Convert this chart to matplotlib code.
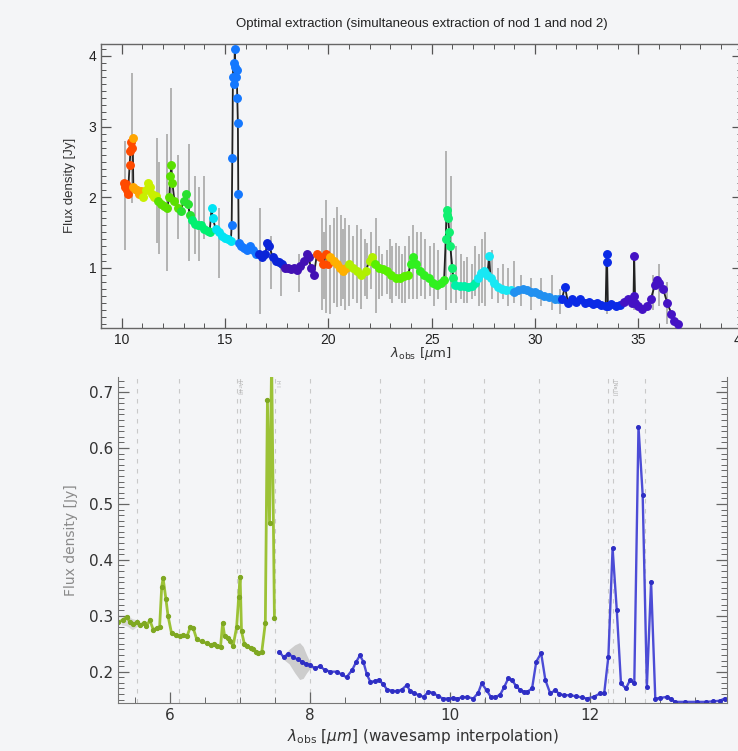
import matplotlib
matplotlib.use("Agg")
import matplotlib.pyplot as plt
from matplotlib.ticker import MultipleLocator
import numpy as np

# ---- top panel: full spectrum (wavelength [um], flux [Jy]) ----
top_wave = [10.10, 10.15, 10.20, 10.25, 10.30, 10.38, 10.42, 10.46, 10.50,
            10.53, 10.56, 10.65, 10.75, 10.85, 10.95,
            11.05, 11.15, 11.25, 11.35, 11.45, 11.55, 11.65,
            11.75, 11.90, 12.05, 12.20, 12.30, 12.35, 12.40, 12.45, 12.55, 12.70,
            12.85, 13.00, 13.10, 13.20, 13.30,
            13.40, 13.55, 13.70, 13.85, 14.00, 14.15, 14.25,
            14.35, 14.40, 14.55, 14.70, 14.85, 15.00, 15.15, 15.28,
            15.32, 15.35, 15.38, 15.41, 15.44, 15.47, 15.50, 15.53, 15.56, 15.59,
            15.62, 15.64, 15.66, 15.75, 15.90, 16.05, 16.20, 16.35, 16.50,
            16.65, 16.80, 16.95, 17.05, 17.15, 17.30, 17.45, 17.60, 17.75,
            17.90, 18.05, 18.20, 18.35, 18.50, 18.65, 18.80, 18.95, 19.05, 19.15, 19.30,
            19.45, 19.60, 19.75, 19.90, 20.00,
            20.10, 20.25, 20.40, 20.55, 20.70, 20.85,
            21.00, 21.20, 21.40, 21.60, 21.80, 22.00, 22.10,
            22.25, 22.45, 22.65, 22.85, 23.05, 23.25, 23.45, 23.65, 23.85,
            24.00, 24.10, 24.25, 24.45, 24.65, 24.85, 25.05, 25.25, 25.45, 25.60,
            25.68, 25.72, 25.76, 25.80, 25.85, 25.90, 26.00, 26.05,
            26.15, 26.35, 26.55, 26.75, 26.95, 27.10,
            27.25, 27.40, 27.55, 27.70, 27.78, 27.85, 28.00, 28.20, 28.40, 28.60, 28.85,
            29.00, 29.20, 29.40, 29.60, 29.80, 30.00, 30.20, 30.45, 30.70, 30.95, 31.15,
            31.30, 31.45, 31.60, 31.80, 32.00, 32.20, 32.40, 32.60, 32.80, 33.00,
            33.20, 33.42, 33.47, 33.49, 33.53, 33.70, 33.90, 34.10,
            34.30, 34.50, 34.70, 34.77, 34.80, 34.85, 35.00, 35.20, 35.40, 35.60,
            35.80, 35.90, 36.00, 36.20, 36.40, 36.60, 36.75, 36.90]
top_flux = [2.20, 2.15, 2.18, 2.10, 2.05, 2.45, 2.65, 2.78, 2.70,
            2.84, 2.15, 2.12, 2.10, 2.05, 2.08,
            2.00, 2.10, 2.20, 2.15, 2.05, 2.00, 2.02,
            1.95, 1.90, 1.88, 1.85, 2.00, 2.30, 2.45, 2.20, 1.95, 1.85,
            1.80, 1.95, 2.05, 1.90, 1.75,
            1.68, 1.62, 1.60, 1.60, 1.55, 1.52, 1.50,
            1.85, 1.70, 1.55, 1.50, 1.45, 1.42, 1.40, 1.38,
            1.60, 2.55, 3.70, 3.90, 3.60, 4.10, 3.85, 3.70, 3.80, 3.40,
            3.05, 2.05, 1.35, 1.30, 1.28, 1.25, 1.30, 1.25, 1.20,
            1.20, 1.15, 1.20, 1.35, 1.30, 1.15, 1.10, 1.08, 1.05,
            1.00, 1.00, 0.98, 1.00, 0.97, 1.02, 1.10, 1.20, 1.15, 1.00, 0.90,
            1.20, 1.15, 1.05, 1.20, 1.05,
            1.15, 1.10, 1.05, 1.00, 0.95, 1.00,
            1.05, 1.00, 0.95, 0.90, 0.95, 1.10, 1.15,
            1.05, 1.00, 0.98, 0.95, 0.90, 0.85, 0.85, 0.88, 0.90,
            1.05, 1.15, 1.05, 0.95, 0.90, 0.85, 0.78, 0.76, 0.78, 0.82,
            1.40, 1.75, 1.82, 1.70, 1.50, 1.30, 1.00, 0.85,
            0.75, 0.74, 0.74, 0.72, 0.74, 0.78,
            0.85, 0.92, 0.95, 0.90, 1.17, 0.85, 0.78, 0.72, 0.70, 0.68, 0.68,
            0.65, 0.68, 0.70, 0.68, 0.65, 0.66, 0.63, 0.60, 0.58, 0.56, 0.55,
            0.55, 0.73, 0.50, 0.55, 0.52, 0.56, 0.50, 0.52, 0.48, 0.50,
            0.47, 0.46, 1.20, 1.08, 0.45, 0.48, 0.45, 0.47,
            0.52, 0.55, 0.50, 0.60, 1.17, 0.50, 0.45, 0.42, 0.45, 0.55,
            0.75, 0.82, 0.78, 0.70, 0.50, 0.35, 0.25, 0.20]

# order boundaries (first wavelength of each order) and order colours
order_start = [10.0, 10.52, 11.0, 11.7, 12.8, 13.35, 14.3, 15.3, 16.6, 17.85,
               19.4, 20.05, 20.95, 22.2, 23.9, 25.65, 26.1, 27.2, 28.95, 31.25, 34.2]
order_color = ['#ff4a00', '#ffa500', '#c8f000', '#5ae000', '#28e030', '#00f070',
               '#00e4f4', '#1478ff', '#0a24d8', '#4210b4',
               '#ff4a00', '#ffb000', '#b0f000', '#58f000', '#30f020', '#10f070',
               '#00f0a8', '#18e8f4', '#2290f0', '#0a2ae6', '#4412c4']

# uncertainty bars (wavelength, low, high)
err_wave = [10.17, 10.50, 11.70, 11.80, 12.20, 12.40, 12.70, 13.25, 13.55, 13.75,
            14.00, 14.70, 16.70, 17.20, 17.70, 18.60, 19.70, 19.80, 19.90, 20.10,
            20.25, 20.40, 20.60, 20.70, 20.80, 21.00, 21.20, 21.40, 21.60, 21.75,
            21.85, 22.05, 22.30, 22.45, 22.60, 22.85, 23.00, 23.10, 23.25, 23.40,
            23.55, 23.70, 23.90, 24.10, 24.30, 24.50, 24.70, 24.90, 25.10, 25.30,
            25.70, 25.95, 26.20, 26.40, 26.55, 26.70, 26.95, 27.10, 27.30, 27.45,
            27.60, 27.90, 28.20, 28.45, 28.70, 29.00, 29.30, 29.80, 30.30, 30.80,
            31.20, 33.50, 34.80, 35.70, 36.00, 36.40]
err_lo = [1.25, 1.92, 1.35, 1.20, 0.95, 2.00, 1.40, 1.10, 1.20, 1.10,
          1.40, 0.85, 0.35, 0.70, 0.60, 0.65, 0.40, 0.55, 0.36, 0.35,
          0.50, 0.44, 0.45, 0.55, 0.40, 0.46, 0.55, 0.50, 0.42, 0.60,
          0.55, 0.70, 0.36, 0.55, 0.60, 0.62, 0.55, 0.50, 0.60, 0.55,
          0.50, 0.50, 0.55, 0.55, 0.55, 0.60, 0.55, 0.60, 0.45, 0.55,
          0.40, 0.50, 0.50, 0.55, 0.50, 0.50, 0.55, 0.60, 0.45, 0.50,
          0.45, 0.55, 0.50, 0.55, 0.45, 0.50, 0.45, 0.40, 0.45, 0.40,
          0.35, 0.35, 0.40, 0.40, 0.45, 0.20]
err_hi = [2.80, 3.76, 2.84, 2.50, 2.90, 3.55, 2.60, 2.75, 2.30, 2.15,
          2.30, 1.85, 1.85, 1.45, 1.00, 1.20, 1.70, 1.50, 1.96, 1.60,
          1.70, 1.86, 1.75, 1.55, 1.70, 1.60, 1.45, 1.60, 1.55, 1.40,
          1.35, 1.50, 1.70, 1.30, 1.20, 1.25, 1.40, 1.30, 1.35, 1.30,
          1.20, 1.30, 1.45, 1.60, 1.50, 1.50, 1.40, 1.30, 1.35, 1.25,
          2.65, 2.30, 1.30, 1.20, 1.10, 1.15, 1.05, 1.30, 1.20, 1.40,
          1.50, 1.25, 1.00, 1.05, 1.00, 1.10, 0.90, 0.85, 0.85, 0.90,
          0.70, 0.70, 0.65, 0.90, 1.05, 0.80]

# ---- bottom panel: wavesamp interpolated low-res spectrum ----
sl2_wave = [5.26, 5.32, 5.38, 5.43, 5.47, 5.52, 5.57, 5.62, 5.66, 5.71, 5.76, 5.81,
            5.85, 5.88, 5.90, 5.94, 5.97, 6.02, 6.08, 6.14, 6.19, 6.24, 6.29, 6.33,
            6.38, 6.45, 6.52, 6.58, 6.63, 6.67, 6.72, 6.75, 6.78, 6.82, 6.86, 6.90,
            6.95, 6.98, 7.00, 7.02, 7.06, 7.10, 7.15, 7.19, 7.23, 7.26, 7.31, 7.36,
            7.39, 7.42, 7.45, 7.49]
sl2_flux = [0.289, 0.292, 0.298, 0.288, 0.285, 0.288, 0.283, 0.287, 0.281, 0.292, 0.275, 0.278,
            0.280, 0.352, 0.367, 0.330, 0.300, 0.269, 0.265, 0.263, 0.265, 0.263, 0.280, 0.278,
            0.258, 0.254, 0.251, 0.248, 0.249, 0.246, 0.244, 0.287, 0.263, 0.260, 0.254, 0.246,
            0.280, 0.334, 0.370, 0.272, 0.250, 0.246, 0.243, 0.240, 0.236, 0.233, 0.236, 0.287,
            0.686, 0.466, 0.760, 0.296]

sl1_wave = [7.56, 7.62, 7.69, 7.76, 7.82, 7.88, 7.94, 8.00, 8.07, 8.14, 8.21, 8.29,
            8.38, 8.45, 8.52, 8.60, 8.66, 8.71, 8.76, 8.81, 8.86, 8.93, 8.98, 9.04,
            9.10, 9.17, 9.24, 9.31, 9.38, 9.43, 9.48, 9.55, 9.62, 9.69, 9.76, 9.83,
            9.90, 9.97, 10.04, 10.10, 10.17, 10.24, 10.33, 10.40, 10.45, 10.52, 10.58, 10.64,
            10.71, 10.77, 10.83, 10.88, 10.94, 11.00, 11.06, 11.10, 11.17, 11.23, 11.30, 11.36,
            11.43, 11.50, 11.56, 11.62, 11.71, 11.80, 11.88, 11.95, 12.05, 12.14, 12.20, 12.26,
            12.32, 12.38, 12.44, 12.51, 12.57, 12.63, 12.69, 12.75, 12.81, 12.87, 12.93, 13.00,
            13.10, 13.16, 13.21, 13.35, 13.52, 13.65, 13.76, 13.85, 13.92]
sl1_flux = [0.236, 0.226, 0.232, 0.226, 0.222, 0.218, 0.214, 0.212, 0.206, 0.210, 0.203, 0.200,
            0.200, 0.195, 0.190, 0.203, 0.218, 0.229, 0.218, 0.195, 0.182, 0.183, 0.186, 0.178,
            0.168, 0.166, 0.165, 0.168, 0.176, 0.165, 0.162, 0.158, 0.155, 0.164, 0.162, 0.156,
            0.152, 0.152, 0.153, 0.152, 0.154, 0.155, 0.152, 0.162, 0.179, 0.167, 0.155, 0.155,
            0.158, 0.172, 0.188, 0.185, 0.175, 0.167, 0.164, 0.164, 0.170, 0.218, 0.233, 0.185,
            0.161, 0.167, 0.160, 0.158, 0.158, 0.156, 0.154, 0.152, 0.155, 0.161, 0.161, 0.227,
            0.421, 0.310, 0.179, 0.170, 0.185, 0.179, 0.638, 0.516, 0.173, 0.361, 0.152, 0.153,
            0.155, 0.151, 0.146, 0.146, 0.146, 0.146, 0.147, 0.148, 0.152]

# grey uncertainty bands
band_wave = [7.62, 7.70, 7.78, 7.85, 7.90, 7.95, 8.00, 8.06]
band_lo = [0.222, 0.214, 0.198, 0.186, 0.188, 0.198, 0.206, 0.205]
band_hi = [0.230, 0.240, 0.248, 0.252, 0.245, 0.230, 0.217, 0.208]
band2_wave = [5.30, 5.38, 5.46, 5.54]
band2_lo = [0.284, 0.282, 0.275, 0.282]
band2_hi = [0.296, 0.300, 0.295, 0.292]

# line markers
line_pos = [5.52, 6.12, 6.95, 7.00, 7.50, 8.00, 9.00, 9.62, 10.48, 11.27, 12.26, 12.33, 12.79]
line_lab = [(7.00, '[Ar II]'), (7.53, 'H I'), (12.36, '[Ne II]')]

BG = '#f4f5f7'
fig = plt.figure(figsize=(7.38, 7.51), dpi=100, facecolor=BG)

# ===================== top panel =====================
ax1 = fig.add_axes([101.1 / 738, 1 - 327.7 / 751, 640.5 / 738, 283.7 / 751])
ax1.set_facecolor(BG)
ax1.vlines(err_wave, err_lo, err_hi, color='#b3b3b3', lw=1.4, zorder=1)
ax1.plot(top_wave, top_flux, color='#222222', lw=1.3, zorder=2)

tw = np.array(top_wave)
tf = np.array(top_flux)
edges = order_start + [99]
for i, c in enumerate(order_color):
    m = (tw >= edges[i]) & (tw < edges[i + 1])
    ax1.plot(tw[m], tf[m], 'o', color=c, ms=5.4, mec=c, zorder=3)

ax1.set_xlim(9, 40)
ax1.set_ylim(0.149, 4.17)
ax1.xaxis.set_major_locator(MultipleLocator(5))
ax1.xaxis.set_minor_locator(MultipleLocator(1))
ax1.yaxis.set_major_locator(MultipleLocator(1))
ax1.yaxis.set_minor_locator(MultipleLocator(0.1))
ax1.tick_params(which='both', direction='in', top=True, right=True,
                colors='#555555', labelcolor='#222222', labelsize=10)
ax1.tick_params(which='major', length=7, width=0.9)
ax1.tick_params(which='minor', length=3.5, width=0.7)
for s in ax1.spines.values():
    s.set_color('#666666')
    s.set_linewidth(1.0)
ax1.set_title('Optimal extraction (simultaneous extraction of nod 1 and nod 2)',
              fontsize=9.5, family='Liberation Sans', color='#222222', pad=12)
ax1.set_ylabel('Flux density [Jy]', fontsize=9.5, family='Liberation Sans',
               color='#333333', labelpad=9)
ax1.set_xlabel(r'$\lambda_{\rm obs}$ [$\mu$m]', fontsize=9.5, color='#333333', labelpad=-1)
for lbl in ax1.get_xticklabels() + ax1.get_yticklabels():
    lbl.set_family('Liberation Sans')

# ===================== bottom panel =====================
ax2 = fig.add_axes([118.3 / 738, 48 / 751, 608.4 / 738, 326 / 751])
ax2.set_facecolor(BG)
for x in line_pos:
    ax2.axvline(x, color='#c9c9c9', lw=0.8, ls=(0, (4, 5)), zorder=0)
for x, t in line_lab:
    ax2.text(x, 0.722, t, rotation=-90, fontsize=3.5, color='#aaaaaa',
             ha='center', va='top')

ax2.fill_between(band_wave, band_lo, band_hi, color='#cdcdcd', lw=0, zorder=1)
ax2.fill_between(band2_wave, band2_lo, band2_hi, color='#d8d8d8', lw=0, zorder=1)
ax2.plot(sl2_wave, sl2_flux, '-o', color='#9cc236', lw=2.0, ms=2.8,
         mfc='#7fa822', mec='#7fa822', zorder=2)
ax2.plot(sl1_wave, sl1_flux, '-o', color='#4c4cd6', lw=1.7, ms=2.6,
         mfc='#2e2ec4', mec='#2e2ec4', zorder=2)

ax2.set_xlim(5.26, 13.95)
ax2.set_ylim(0.144, 0.727)
ax2.xaxis.set_major_locator(MultipleLocator(2))
ax2.xaxis.set_minor_locator(MultipleLocator(0.5))
ax2.yaxis.set_major_locator(MultipleLocator(0.1))
ax2.yaxis.set_minor_locator(MultipleLocator(0.01))
ax2.tick_params(which='both', direction='in', top=False, right=True,
                colors='#666666', labelcolor='#333333', labelsize=11)
ax2.tick_params(which='major', length=8, width=0.9)
ax2.tick_params(which='minor', length=4, width=0.7)
ax2.spines['top'].set_visible(False)
for s in ['left', 'bottom', 'right']:
    ax2.spines[s].set_color('#777777')
ax2.set_ylabel('Flux density [Jy]', fontsize=10, color='#8a8a8a', labelpad=8)
ax2.set_xlabel(r'$\lambda_{\rm obs}$ [$\mu m$] (wavesamp interpolation)',
               fontsize=11, color='#333333', labelpad=3)

fig.savefig('out.png', dpi=100, facecolor=BG)
